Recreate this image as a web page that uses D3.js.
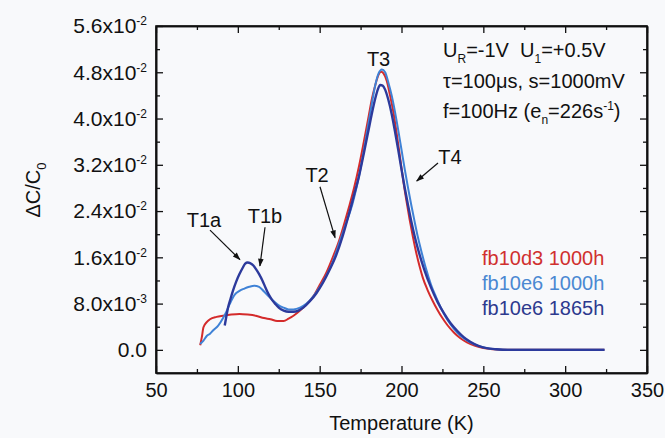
<!DOCTYPE html>
<html>
<head>
<meta charset="utf-8">
<script src="https://cdn.jsdelivr.net/npm/d3@7"></script>
<style>
  body { margin: 0; background: #f8f9fb; }
  svg { display: block; font-family: "Liberation Sans", Arial, sans-serif; }
  .axis path, .axis line { stroke: #111; }
  .axis path { stroke-width: 1.6; }
  .axis line { stroke-width: 1.3; }
  .axis text { font-size: 20px; fill: #111; font-family: "Liberation Sans", Arial, sans-serif; }
</style>
</head>
<body>
<svg width="665" height="438"></svg>
<script>
// red: fb10d3 1000h
var redT = [77, 78, 79, 81, 83, 87, 91, 96, 101, 106, 111, 116, 120, 124, 128, 131, 134, 138, 142, 146,
  150, 154, 158, 162, 165, 168, 171, 174, 177, 180, 182, 184, 186, 187.5, 189, 191, 193, 195, 197, 199,
  201, 203, 205, 207, 209, 211, 213, 216, 219, 222, 225, 228, 232, 236, 240, 245, 250, 256, 265, 280, 300, 324];
var redV = [0.0008, 0.0022, 0.0039, 0.0048, 0.0053, 0.0057, 0.0059, 0.0061, 0.0062, 0.0061, 0.0059, 0.0055,
  0.0053, 0.0050, 0.0050, 0.0054, 0.0059, 0.0068, 0.0079, 0.0092, 0.0112, 0.0133, 0.0160, 0.0190, 0.0218,
  0.0248, 0.0280, 0.0317, 0.0360, 0.0405, 0.0435, 0.0458, 0.0476, 0.0481, 0.0478, 0.0465, 0.0440, 0.0412,
  0.0375, 0.0335, 0.0294, 0.0258, 0.0225, 0.0195, 0.0168, 0.0145, 0.0125, 0.0103, 0.0085, 0.0069, 0.0055,
  0.0043, 0.0030, 0.0020, 0.0013, 0.0007, 0.0003, 0.0001, 0.0000, 0.0000, 0.0000, 0.0000];

// light blue: fb10e6 1000h
var lightT = [77, 79, 81, 83, 85, 88, 91, 93, 95, 98, 101, 104, 107, 110, 113, 116, 119, 122, 125, 128,
  131, 134, 138, 142, 146, 150, 154, 158, 162, 166, 170, 174, 177, 180, 182, 184, 186, 188, 190, 192,
  194, 196, 198, 200, 202, 204, 206, 208, 210, 212, 215, 218, 221, 224, 227, 230, 234, 238, 242, 247,
  252, 258, 265, 280, 300, 324];
var lightV = [0.0010, 0.0016, 0.0024, 0.0028, 0.0034, 0.0042, 0.0055, 0.0066, 0.0079, 0.0095, 0.0102,
  0.0106, 0.0109, 0.0111, 0.0109, 0.0101, 0.0092, 0.0084, 0.0077, 0.0073, 0.0070, 0.0070, 0.0073, 0.0080,
  0.0092, 0.0108, 0.0128, 0.0152, 0.0185, 0.0218, 0.0252, 0.0300, 0.0345, 0.0395, 0.0428, 0.0458, 0.0478,
  0.0485, 0.0480, 0.0462, 0.0440, 0.0412, 0.0380, 0.0346, 0.0312, 0.0280, 0.0250, 0.0222, 0.0195, 0.0172,
  0.0140, 0.0113, 0.0092, 0.0073, 0.0057, 0.0044, 0.0030, 0.0020, 0.0013, 0.0007, 0.0003, 0.0001, 0.0000,
  0.0000, 0.0000, 0.0000];

// dark blue: fb10e6 1865h
var darkT = [92, 93, 94, 95.5, 97, 99, 101, 103, 104.5, 106, 107.5, 109.5, 111, 113, 115, 117, 119, 121,
  123, 125, 128, 131, 134, 137, 140, 144, 148, 152, 156, 160, 164, 168, 171, 174, 177, 180, 182, 184,
  185.5, 187, 188.5, 190, 192, 194, 196, 198, 200, 202, 204, 206, 208, 210, 214, 218, 222, 226, 230,
  234, 238, 242, 247, 252, 258, 265, 280, 300, 324];
var darkV = [0.0042, 0.0058, 0.0073, 0.0088, 0.0102, 0.0118, 0.0131, 0.0142, 0.0149, 0.0151, 0.0150,
  0.0146, 0.0140, 0.0131, 0.0120, 0.0107, 0.0095, 0.0086, 0.0079, 0.0073, 0.0068, 0.0066, 0.0066, 0.0068,
  0.0073, 0.0084, 0.0098, 0.0116, 0.0138, 0.0163, 0.0196, 0.0236, 0.0268, 0.0300, 0.0340, 0.0382, 0.0410,
  0.0435, 0.0450, 0.0458, 0.0457, 0.0450, 0.0432, 0.0408, 0.0378, 0.0346, 0.0312, 0.0280, 0.0250, 0.0222,
  0.0197, 0.0175, 0.0138, 0.0108, 0.0083, 0.0063, 0.0046, 0.0033, 0.0022, 0.0014, 0.0007, 0.0003, 0.0001,
  0.0000, 0.0000, 0.0000, 0.0000];

var seriesNames = ["fb10d3 1000h", "fb10e6 1000h", "fb10e6 1865h"];
var seriesColors = ["#d42b2b", "#3f82d6", "#2c3a9c"];
var legendColors = ["#d0302e", "#4a88d2", "#2d3a8e"];

var xTicks = [50, 100, 150, 200, 250, 300, 350];
var xMinor = [75, 125, 175, 225, 275, 325];
var yTicks = [0, 0.008, 0.016, 0.024, 0.032, 0.040, 0.048, 0.056];
var yMinor = [0.004, 0.012, 0.020, 0.028, 0.036, 0.044, 0.052];
var yTickMant = ["0.0", "8.0x10", "1.6x10", "2.4x10", "3.2x10", "4.0x10", "4.8x10", "5.6x10"];
var yTickExp = ["", "-3", "-2", "-2", "-2", "-2", "-2", "-2"];

// peak labels: [text, T, value], arrows: [T1, v1, T2, v2]
var peakLabels = [["T1a", 79.3, 0.0225], ["T1b", 116.6, 0.0232], ["T2", 148.4, 0.0302],
  ["T3", 186, 0.0503], ["T4", 229.6, 0.0334]];
var peakArrows = [[83, 0.0207, 101.3, 0.0156], [116.6, 0.0212, 113.5, 0.0145],
  [150.2, 0.0282, 159.4, 0.0194], [222.3, 0.0323, 209.3, 0.0292]];

var svg = d3.select("svg"),
    pLeft = 156, pRight = 647, pTop = 26, pBottom = 373;

var x = d3.scaleLinear().domain([50, 350]).range([pLeft, pRight]);
var y = d3.scaleLinear().domain([-0.004, 0.056]).range([pBottom, pTop]);

var defs = svg.append("defs");
defs.append("clipPath").attr("id", "clip")
  .append("rect").attr("x", pLeft).attr("y", pTop).attr("width", pRight - pLeft).attr("height", pBottom - pTop);

var marker = defs.append("marker")
    .attr("id", "arrow").attr("viewBox", "0 0 10 10")
    .attr("refX", 9).attr("refY", 5)
    .attr("markerWidth", 10).attr("markerHeight", 8)
    .attr("markerUnits", "userSpaceOnUse")
    .attr("orient", "auto");
marker.append("path").attr("d", "M0,1.5 L10,5 L0,8.5 Z").attr("fill", "#111");

// curves
var line = d3.line()
    .x(function(d) { return x(d[0]); })
    .y(function(d) { return y(d[1]); })
    .curve(d3.curveMonotoneX);

var series = [d3.zip(redT, redV), d3.zip(lightT, lightV), d3.zip(darkT, darkV)];
var widths = [2, 2, 2.4];

svg.append("g").attr("clip-path", "url(#clip)")
  .selectAll("path")
  .data([0, 1, 2])
  .enter().append("path")
    .attr("d", function(i) { return line(series[i]); })
    .attr("fill", "none")
    .attr("stroke", function(i) { return seriesColors[i]; })
    .attr("stroke-width", function(i) { return widths[i]; })
    .attr("stroke-linejoin", "round");

// axes, ticks pointing inward on all four sides
function makeAxis(axisFn, scale, values, size, transform, labels) {
  var ax = axisFn(scale).tickValues(values).tickSizeInner(-size).tickSizeOuter(0);
  if (!labels) ax.tickFormat("");
  var g = svg.append("g").attr("class", "axis").attr("transform", transform);
  return { g: g, ax: ax };
}

var xb = makeAxis(d3.axisBottom, x, xTicks, 7, "translate(0," + pBottom + ")", true);
xb.ax.tickPadding(10).tickFormat(d3.format("d"));
xb.g.call(xb.ax);
var xbm = makeAxis(d3.axisBottom, x, xMinor, 4, "translate(0," + pBottom + ")");
xbm.g.call(xbm.ax);
var xt = makeAxis(d3.axisTop, x, xTicks, 7, "translate(0," + pTop + ")");
xt.g.call(xt.ax);
var xtm = makeAxis(d3.axisTop, x, xMinor, 4, "translate(0," + pTop + ")");
xtm.g.call(xtm.ax);

var yl = makeAxis(d3.axisLeft, y, yTicks, 7, "translate(" + pLeft + ",0)", true);
yl.ax.tickPadding(9);
yl.g.call(yl.ax);
yl.g.selectAll(".tick text").each(function(d, i) {
  var t = d3.select(this).text(null).style("font-size", "21px");
  t.append("tspan").text(yTickMant[i]);
  if (yTickExp[i]) t.append("tspan").attr("dy", -8).attr("font-size", 12).text(yTickExp[i]);
});
var ylm = makeAxis(d3.axisLeft, y, yMinor, 4, "translate(" + pLeft + ",0)");
ylm.g.call(ylm.ax);
var yr = makeAxis(d3.axisRight, y, yTicks, 7, "translate(" + pRight + ",0)");
yr.g.call(yr.ax);
var yrm = makeAxis(d3.axisRight, y, yMinor, 4, "translate(" + pRight + ",0)");
yrm.g.call(yrm.ax);

// frame
svg.append("rect")
    .attr("x", pLeft).attr("y", pTop)
    .attr("width", pRight - pLeft).attr("height", pBottom - pTop)
    .attr("fill", "none").attr("stroke", "#111").attr("stroke-width", 1.6);

// axis titles
svg.append("text")
    .attr("x", (pLeft + pRight) / 2).attr("y", 430)
    .attr("text-anchor", "middle").attr("font-size", 20).attr("fill", "#111")
    .text("Temperature (K)");

var yt = svg.append("text")
    .attr("transform", "translate(40,190) rotate(-90)")
    .attr("text-anchor", "middle").attr("font-size", 20).attr("fill", "#111");
yt.append("tspan").text("ΔC/C");
yt.append("tspan").attr("dy", 6).attr("font-size", 13).text("0");

// peak labels and arrows
svg.selectAll(".peak")
  .data(peakLabels)
  .enter().append("text")
    .attr("class", "peak")
    .attr("x", function(d) { return x(d[1]); })
    .attr("y", function(d) { return y(d[2]); })
    .attr("dy", "0.36em")
    .attr("text-anchor", "middle").attr("font-size", 20).attr("fill", "#111")
    .text(function(d) { return d[0]; });

svg.selectAll(".arrow")
  .data(peakArrows)
  .enter().append("line")
    .attr("class", "arrow")
    .attr("x1", function(d) { return x(d[0]); })
    .attr("y1", function(d) { return y(d[1]); })
    .attr("x2", function(d) { return x(d[2]); })
    .attr("y2", function(d) { return y(d[3]); })
    .attr("stroke", "#111").attr("stroke-width", 1.2)
    .attr("marker-end", "url(#arrow)");

// conditions text
var info = svg.append("g").attr("font-size", 20).attr("fill", "#111");
var l1 = info.append("text").attr("x", 443).attr("y", 57);
l1.append("tspan").text("U");
l1.append("tspan").attr("dy", 6).attr("font-size", 12).text("R");
l1.append("tspan").attr("dy", -6).text("=-1V\u00a0\u00a0U");
l1.append("tspan").attr("dy", 6).attr("font-size", 12).text("1");
l1.append("tspan").attr("dy", -6).text("=+0.5V");
info.append("text").attr("x", 443).attr("y", 88).text("τ=100μs, s=1000mV");
var l3 = info.append("text").attr("x", 443).attr("y", 118);
l3.append("tspan").text("f=100Hz (e");
l3.append("tspan").attr("dy", 6).attr("font-size", 12).text("n");
l3.append("tspan").attr("dy", -6).text("=226s");
l3.append("tspan").attr("dy", -8).attr("font-size", 12).text("-1");
l3.append("tspan").attr("dy", 8).text(")");

// legend
svg.selectAll(".legend")
  .data(seriesNames)
  .enter().append("text")
    .attr("class", "legend")
    .attr("x", 482)
    .attr("y", function(d, i) { return 265 + i * 25; })
    .attr("font-size", 20)
    .attr("fill", function(d, i) { return legendColors[i]; })
    .text(function(d) { return d; });
</script>
</body>
</html>
